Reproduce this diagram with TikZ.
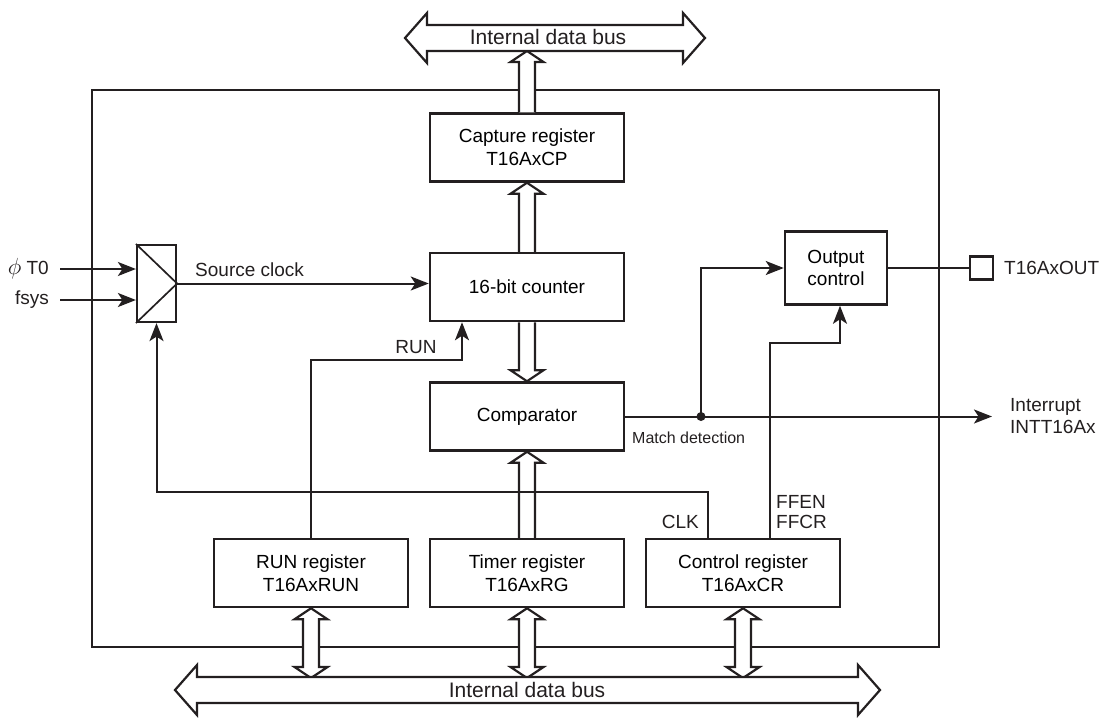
\documentclass[tikz,border=0pt]{standalone}
\usepackage{fontspec}
\setmainfont{Liberation Sans}
\usepackage{tikz}
\usetikzlibrary{arrows.meta,positioning,calc}
\definecolor{ink}{RGB}{35,31,32}

\tikzset{
  blk/.style={draw=ink, line width=2.5pt, fill=white, minimum width=194pt,
    minimum height=68pt, align=center, inner sep=0pt,
    font=\fontsize{19}{23}\selectfont},
  sig/.style={draw=ink, line width=2pt, -{Stealth[length=18pt,width=14pt,inset=4.5pt]}},
  wire/.style={draw=ink, line width=2pt},
  bus/.style={draw=ink, line width=2.2pt, fill=white, line join=miter},
  lbl/.style={inner sep=0pt, text=ink, font=\fontsize{19}{22}\selectfont}
}

% hollow bus arrows
\newcommand{\busup}[2]{\draw[bus] let \p1=(#1), \p2=(#2) in
  (\x1-8pt,\y1) -- (\x1-8pt,\y2-11pt) -- (\x1-16.5pt,\y2-11pt) -- (\x1,\y2)
  -- (\x1+16.5pt,\y2-11pt) -- (\x1+8pt,\y2-11pt) -- (\x1+8pt,\y1);}
\newcommand{\busdown}[2]{\draw[bus] let \p1=(#1), \p2=(#2) in
  (\x1-8pt,\y1) -- (\x1-8pt,\y2+11pt) -- (\x1-16.5pt,\y2+11pt) -- (\x1,\y2)
  -- (\x1+16.5pt,\y2+11pt) -- (\x1+8pt,\y2+11pt) -- (\x1+8pt,\y1);}
\newcommand{\busboth}[2]{\draw[bus] let \p1=(#1), \p2=(#2) in
  (\x1,\y1) -- (\x1+16.5pt,\y1-11pt) -- (\x1+8pt,\y1-11pt) -- (\x1+8pt,\y2+11pt)
  -- (\x1+16.5pt,\y2+11pt) -- (\x1,\y2) -- (\x1-16.5pt,\y2+11pt) -- (\x1-8pt,\y2+11pt)
  -- (\x1-8pt,\y1-11pt) -- (\x1-16.5pt,\y1-11pt) -- cycle;}
\newcommand{\hbus}[2]{\draw[bus] let \p1=(#1), \p2=(#2) in
  (\x1,\y1) -- (\x1+22pt,\y1+25pt) -- (\x1+22pt,\y1+13pt) -- (\x2-22pt,\y1+13pt)
  -- (\x2-22pt,\y1+25pt) -- (\x2,\y1) -- (\x2-22pt,\y1-25pt) -- (\x2-22pt,\y1-13pt)
  -- (\x1+22pt,\y1-13pt) -- (\x1+22pt,\y1-25pt) -- cycle;}

\begin{document}
\begin{tikzpicture}[x=1pt, y=-1pt]
  \useasboundingbox (0,0) rectangle (1103,718);

  % timer unit frame
  \node[draw=ink, line width=1.7pt, minimum width=847pt, minimum height=557pt] (unit) at (515.5,368.5) {};

  % blocks
  \node[blk] (cap) at (527,147.5) {Capture register\\T16AxCP};
  \node[blk] (cnt) at (527,287) {16-bit counter};
  \node[blk] (cmp) at (527,416.5) {Comparator};
  \node[blk] (run) at (311,573) {RUN register\\T16AxRUN};
  \node[blk] (tmr) at (527,573) {Timer register\\T16AxRG};
  \node[blk] (ctl) at (743,573) {Control register\\T16AxCR};
  \node[blk, minimum width=102pt, minimum height=73pt, font=\fontsize{19}{22}\selectfont] (outc) at (836,268) {Output\\control};
  \node[draw=ink, line width=2.5pt, fill=white, minimum size=23pt, inner sep=0pt] (pin) at (981.5,268) {};
  \node[draw=ink, line width=2.2pt, fill=white, minimum width=39pt, minimum height=77pt, inner sep=0pt] (mux) at (156.5,283.5) {};
  \draw[ink, line width=1.7pt] (mux.north west) -- (mux.east) -- (mux.south west);

  % internal data buses
  \coordinate (tbL) at (405,38);
  \coordinate (tbR) at (705,38);
  \coordinate (topbus) at (555,51);
  \coordinate (bbL) at (175,690);
  \coordinate (bbR) at (880,690);
  \coordinate (botbus) at (527,678);
  \busup{cap.north}{cap.north |- topbus}
  \busup{cnt.north}{cap.south}
  \busdown{cnt.south}{cmp.north}
  \busup{tmr.north}{cmp.south}
  \busboth{run.south}{run.south |- botbus}
  \busboth{tmr.south}{tmr.south |- botbus}
  \busboth{ctl.south}{ctl.south |- botbus}
  \hbus{tbL}{tbR}
  \hbus{bbL}{bbR}
  \node[lbl, font=\fontsize{21}{24}\selectfont] (tbus) at (548,37) {Internal data bus};
  \node[lbl, font=\fontsize{21}{24}\selectfont] (bbus) at (527,690) {Internal data bus};

  % clock inputs
  \node[lbl, anchor=east] (phi) at (49,269) {\scalebox{1.35}{$\phi$}\ T0};
  \node[lbl, anchor=east] (fsys) at (49,300) {fsys};
  \draw[sig] ([xshift=11pt]phi.east) -- (mux.west |- phi.east);
  \draw[sig] ([xshift=11pt]fsys.east) -- (mux.west |- fsys.east);
  \draw[sig] (mux.east) -- (cnt.west |- mux.east);
  \node[lbl, anchor=base west] (srcl) at (195,276) {Source clock};

  % RUN
  \coordinate (runk) at (462,360);
  \draw[sig] (run.north) |- (runk) -- (runk |- cnt.south);
  \node[lbl] (runl) at (416,347) {RUN};

  % CLK select
  \coordinate (clkk) at (708,492);
  \draw[sig] (clkk |- ctl.north) -- (clkk) -| (mux.south);
  \node[lbl, anchor=base east] (clkl) at (699,528) {CLK};

  % FFEN / FFCR
  \coordinate (ffk) at (770,343);
  \draw[sig] (ffk |- ctl.north) -- (ffk) -| ([xshift=4pt]outc.south);
  \node[lbl, anchor=base west] (ffen) at (776,508) {FFEN};
  \node[lbl, anchor=base west] (ffcr) at (776,528) {FFCR};

  % match detection
  \coordinate (mdot) at (701,416.5);
  \coordinate (irq) at (992,416.5);
  \draw[sig] (cmp.east) -- (irq);
  \draw[sig] (mdot) |- (outc.west);
  \fill[ink] (mdot) circle (4.5pt);
  \node[lbl, font=\fontsize{16}{19}\selectfont, anchor=base west] (mdl) at (632,443) {Match detection};
  \node[lbl, anchor=west, align=left, font=\fontsize{19}{22}\selectfont] (irql) at (1010,416) {Interrupt\\INTT16Ax};

  % output
  \draw[wire] (outc.east) -- (pin.west);
  \node[lbl, anchor=west] (outl) at (1004,268) {T16AxOUT};
\end{tikzpicture}
\end{document}
